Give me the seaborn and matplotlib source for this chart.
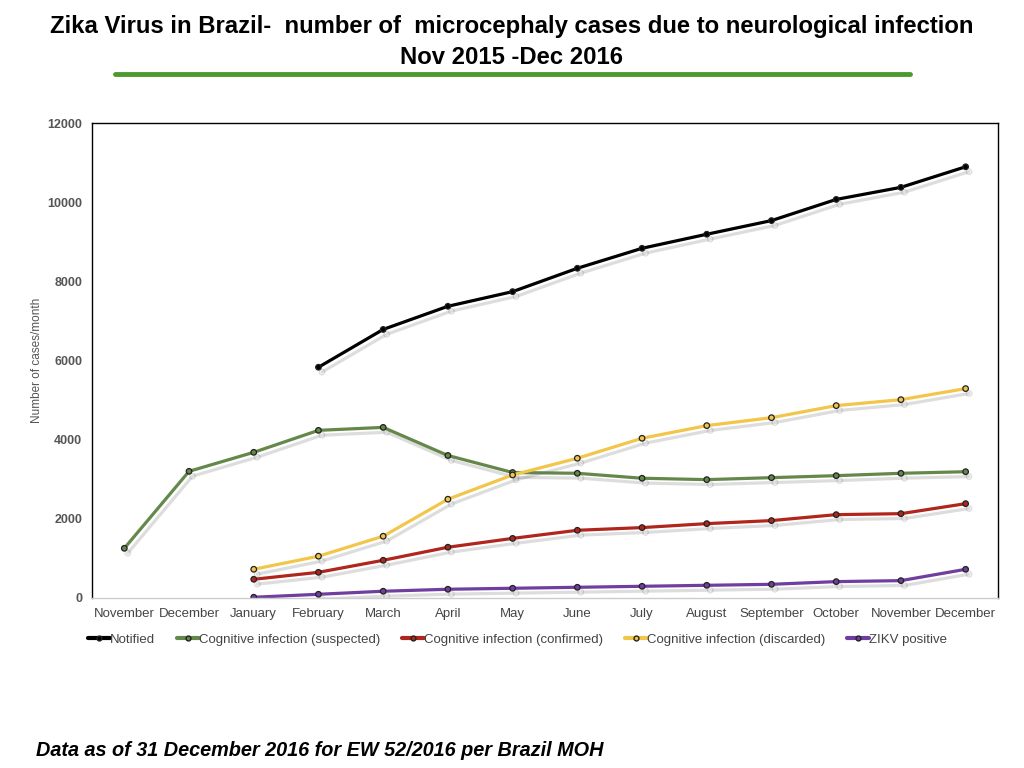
import numpy as np
import pandas as pd
import matplotlib
matplotlib.use("Agg")
import matplotlib.pyplot as plt
import matplotlib.patheffects as pe
from matplotlib.lines import Line2D
import seaborn as sns

months = ["November", "December", "January", "February", "March", "April", "May",
          "June", "July", "August", "September", "October", "November", "December"]

nan = np.nan
notified = [nan, nan, nan, 5830, 6785, 7370, 7740, 8330, 8835, 9190, 9535, 10070, 10375, 10895]
suspected = [1255, 3200, 3680, 4235, 4310, 3600, 3170, 3150, 3025, 2990, 3040, 3090, 3150, 3190]
confirmed = [nan, nan, 472, 648, 952, 1282, 1505, 1710, 1778, 1878, 1955, 2105, 2130, 2383]
discarded = [nan, nan, 725, 1055, 1560, 2495, 3108, 3530, 4035, 4355, 4555, 4860, 5010, 5290]
zikv = [nan, nan, 18, 93, 170, 220, 245, 270, 295, 320, 345, 413, 438, 724]

series_names = ["Notified", "Cognitive infection (suspected)", "Cognitive infection (confirmed)",
                "Cognitive infection (discarded)", "ZIKV positive"]
series_values = [notified, suspected, confirmed, discarded, zikv]
colors = ["#000000", "#64884a", "#b0261c", "#f2c64a", "#6f3e9e"]

rows = []
for name, vals in zip(series_names, series_values):
    for i, v in enumerate(vals):
        if not np.isnan(v):
            rows.append({"idx": i, "cases": v, "series": name})
df = pd.DataFrame(rows)

sns.set_theme(style="white")
plt.rcParams['font.family'] = ['Liberation Sans', 'DejaVu Sans']
plt.rcParams['text.color'] = 'black'

fig = plt.figure(figsize=(10.24, 7.68), dpi=100)
ax = fig.add_axes([0.0898, 0.2214, 0.8848, 0.6184])

sns.lineplot(data=df, x="idx", y="cases", hue="series", hue_order=series_names,
             palette=colors, sort=False, marker="o", markersize=4,
             markeredgecolor="#222222", markeredgewidth=0.9, linewidth=2.3,
             legend=False, ax=ax)

for ln in ax.lines:
    ln.set_path_effects([pe.SimpleLineShadow(offset=(2.5, -3.5), alpha=0.22, shadow_color="#666666"),
                         pe.Normal()])

ax.set_xlim(-0.5, len(months) - 0.5)
ax.set_ylim(0, 12000)
ax.set_yticks(range(0, 12001, 2000))
ax.set_yticklabels([str(v) for v in range(0, 12001, 2000)], fontsize=9,
                   fontweight="bold", color="#555555")
ax.set_xticks(range(len(months)))
ax.set_xticklabels(months, fontsize=9.5, color="#444444")
ax.tick_params(axis="both", length=0, pad=7)
ax.set_xlabel("")
ax.set_ylabel("Number of cases/month", fontsize=8.5, color="#555555", labelpad=3)

for s in ["left", "top", "right"]:
    ax.spines[s].set_color("black")
    ax.spines[s].set_linewidth(1.0)
ax.spines["bottom"].set_color("#cccccc")
ax.spines["bottom"].set_linewidth(1.0)

handles = [Line2D([0], [0], color=c, lw=3, marker="o", markersize=3.5,
                  markerfacecolor=c, markeredgecolor="#222222") for c in colors]
ax.legend(handles, series_names, loc="upper left", bbox_to_anchor=(-0.018, -0.05),
          ncol=5, frameon=False, fontsize=9.5, handlelength=1.67, handletextpad=0.0,
          columnspacing=1.67, labelcolor="#444444")

fig.text(0.5, 0.966, "Zika Virus in Brazil-  number of  microcephaly cases due to neurological infection",
         ha="center", va="center", fontsize=17.2, fontweight="bold")
fig.text(0.5, 0.925, "Nov 2015 -Dec 2016", ha="center", va="center", fontsize=17.2,
         fontweight="bold")
fig.add_artist(Line2D([0.112, 0.889], [0.903, 0.903], color="#4c9a2e", lw=3.5,
                      transform=fig.transFigure))

fig.text(0.035, 0.023, "Data as of 31 December 2016 for EW 52/2016 per Brazil MOH",
         ha="left", va="center", fontsize=14.3, fontweight="bold", style="italic")

plt.savefig("out.png", dpi=100)
